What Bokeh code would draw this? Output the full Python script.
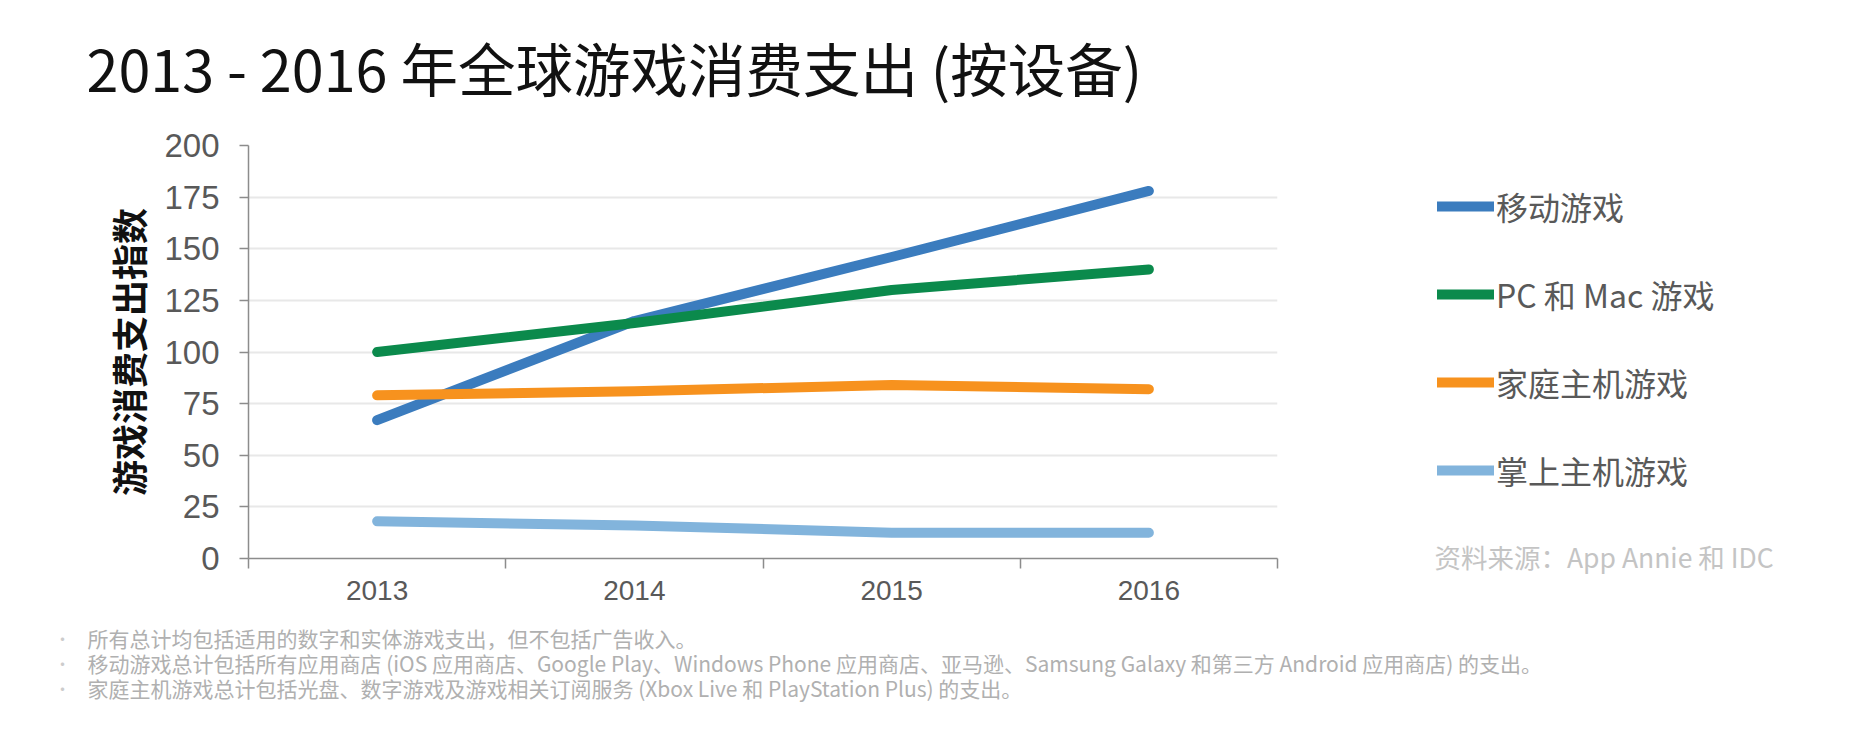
from bokeh.plotting import figure
from bokeh.models import (Range1d, FixedTicker, Label, Legend, LegendItem)
from bokeh.layouts import column, row
from bokeh.embed import file_html
from bokeh.resources import INLINE

# ---------------- data ----------------
years = ["2013", "2014", "2015", "2016"]
mobile = [67, 115, 146, 178]
pc_mac = [100, 114, 130, 140]
home_console = [79, 81, 84, 82]
handheld = [18, 16, 12.5, 12.5]

series_names = ["移动游戏", "PC 和 Mac 游戏", "家庭主机游戏", "掌上主机游戏"]
series_colors = ["#3b7cbe", "#0b8a4c", "#f7921e", "#82b4dc"]

y_ticks = [0, 25, 50, 75, 100, 125, 150, 175, 200]

title_text = "2013 - 2016 年全球游戏消费支出 (按设备)"
y_title = "游戏消费支出指数"
source_text = "资料来源：App Annie 和 IDC"
footnotes = [
    "所有总计均包括适用的数字和实体游戏支出，但不包括广告收入。",
    "移动游戏总计包括所有应用商店 (iOS 应用商店、Google Play、Windows Phone 应用商店、亚马逊、Samsung Galaxy 和第三方 Android 应用商店) 的支出。",
    "家庭主机游戏总计包括光盘、数字游戏及游戏相关订阅服务 (Xbox Live 和 PlayStation Plus) 的支出。",
]

CJK = "Noto Sans CJK SC"
LAT = "Liberation Sans"

# ---------------- layout geometry (page px) ----------------
TOTAL_W = 1850
TOP_H = 118            # title strip
MID_H = 502            # chart + legend strip
FOOT_H = 98            # footnote strip
MAIN_W = 1300
SIDE_W = TOTAL_W - MAIN_W


def blank(width, height, xr=(0, 1)):
    f = figure(width=width, height=height, output_backend="svg",
               toolbar_location=None, x_range=Range1d(*xr), y_range=Range1d(0, 1),
               x_axis_location=None, y_axis_location=None,
               min_border=0, min_border_left=0, min_border_right=0,
               min_border_top=0, min_border_bottom=0, frame_align=False)
    f.outline_line_color = None
    f.xgrid.grid_line_color = None
    f.ygrid.grid_line_color = None
    f.background_fill_color = "white"
    f.border_fill_color = "white"
    return f


def txt(fig, text, x, y_from_top, size, color, style="normal", font=CJK):
    fig.add_layout(Label(x=x, y=fig.height - y_from_top, x_units="screen",
                         y_units="screen", text=text, text_font=font,
                         text_font_size=size, text_color=color,
                         text_font_style=style, text_align="left",
                         text_baseline="middle"))


# ---------------- title strip ----------------
top = blank(TOTAL_W, TOP_H)
txt(top, title_text, 86, 66, "57.5px", "#111111")

# ---------------- main chart ----------------
FRAME_L, FRAME_R = 248, 1277
FRAME_T, FRAME_B = 145 - TOP_H, 558 - TOP_H   # within the mid strip

p = figure(width=MAIN_W, height=MID_H, output_backend="svg", toolbar_location=None,
           x_range=Range1d(0, len(years)), y_range=Range1d(0, 200),
           min_border_left=FRAME_L, min_border_right=MAIN_W - FRAME_R,
           min_border_top=FRAME_T, min_border_bottom=MID_H - FRAME_B,
           frame_align=False)
p.outline_line_color = None
p.background_fill_color = "white"
p.border_fill_color = "white"

xs = [i + 0.5 for i in range(len(years))]

p.xaxis.ticker = FixedTicker(ticks=xs, minor_ticks=list(range(len(years) + 1)))
p.xaxis.major_label_overrides = {x: y for x, y in zip(xs, years)}
p.xaxis.major_tick_line_color = None
p.xaxis.major_tick_out = 0
p.xaxis.major_tick_in = 0
p.xaxis.minor_tick_out = 10
p.xaxis.minor_tick_in = 0
p.xaxis.minor_tick_line_color = "#8c8c8c"
p.xaxis.minor_tick_line_width = 1.5
p.xaxis.axis_line_color = "#8c8c8c"
p.xaxis.axis_line_width = 1.5
p.xaxis.major_label_text_font = LAT
p.xaxis.major_label_text_font_size = "28px"
p.xaxis.major_label_text_color = "#595959"
p.xaxis.major_label_standoff = 12
p.xgrid.grid_line_color = None

p.yaxis.ticker = FixedTicker(ticks=y_ticks)
p.yaxis.minor_tick_line_color = None
p.yaxis.major_tick_out = 9
p.yaxis.major_tick_in = 0
p.yaxis.major_tick_line_color = "#8c8c8c"
p.yaxis.major_tick_line_width = 1.5
p.yaxis.axis_line_color = "#8c8c8c"
p.yaxis.axis_line_width = 1.5
p.yaxis.major_label_text_font = LAT
p.yaxis.major_label_text_font_size = "33px"
p.yaxis.major_label_text_color = "#595959"
p.yaxis.major_label_standoff = 20
p.yaxis.axis_label = y_title
p.yaxis.axis_label_text_font = CJK
p.yaxis.axis_label_text_font_style = "bold"
p.yaxis.axis_label_text_font_size = "36px"
p.yaxis.axis_label_text_color = "#111111"
p.yaxis.axis_label_standoff = 7
p.ygrid.grid_line_color = "#e8e8e8"
p.ygrid.grid_line_width = 2

all_series = [mobile, pc_mac, home_console, handheld]
for vals, c in zip(all_series, series_colors):
    p.line(xs, vals, line_color=c, line_width=10, line_cap="round", line_join="round")

# ---------------- legend + source strip ----------------
# the series are drawn again here only to key the legend; the x range keeps them out of view
side = blank(SIDE_W, MID_H, xr=(-20, -19))
items = []
for name, vals, c in zip(series_names, all_series, series_colors):
    r = side.line(xs, vals, line_color=c, line_width=10, line_cap="round")
    items.append(LegendItem(label=name, renderers=[r]))

ITEM_H = 46
GAP = 42
leg_top = 208 - ITEM_H // 2 - TOP_H          # from top of strip
leg_h = 4 * ITEM_H + 3 * GAP
legend = Legend(items=items, location=(1437 - MAIN_W, MID_H - leg_top - leg_h + 2),
                orientation="vertical", glyph_width=57, glyph_height=ITEM_H,
                label_height=ITEM_H, label_standoff=2, spacing=GAP,
                padding=0, margin=0, label_text_font=CJK,
                label_text_font_size="32px", label_text_color="#595959",
                border_line_color=None, background_fill_alpha=0)
side.add_layout(legend, "center")
txt(side, source_text, 1434 - MAIN_W, 556 - TOP_H, "26.5px", "#c4c4c4")

# ---------------- footnote strip ----------------
foot = blank(TOTAL_W, FOOT_H)
for i, t in enumerate(footnotes):
    y = 637 + i * 25 - (TOP_H + MID_H)
    txt(foot, "•", 54, y, "16px", "#cccccc")
    txt(foot, t, 87, y, "21px", "#b0b0b0")

layout = column(top, row(p, side, spacing=0), foot, spacing=0)
open("out.html", "w").write(file_html(layout, INLINE))
